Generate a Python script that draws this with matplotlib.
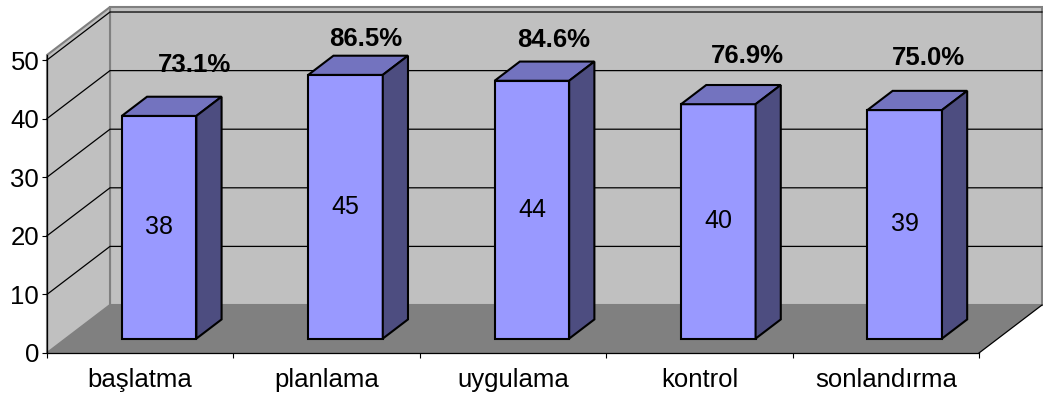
import matplotlib
matplotlib.use("Agg")
import matplotlib.pyplot as plt
from matplotlib.patches import Polygon

# ---- data ----
categories = ["başlatma", "planlama", "uygulama", "kontrol", "sonlandırma"]
counts = [38, 45, 44, 40, 39]
total = 52
y_ticks = [0, 10, 20, 30, 40, 50]

# placement of the bold percentage labels (offset from category centre, height)
pct_dx = [0.29, 0.21, 0.22, 0.26, 0.23]
pct_y = [49.1, 53.6, 53.4, 50.6, 50.3]

plt.rcParams["font.family"] = ["Liberation Sans", "DejaVu Sans"]

W, H, DPI = 1043, 396, 100
fig = plt.figure(figsize=(W / DPI, H / DPI), dpi=DPI)
fig.patch.set_facecolor("white")

n = len(categories)
wall_top = 50.85
px_per_unit = 5.86
ax = fig.add_axes([47 / W, 43 / H, 932 / W, wall_top * px_per_unit / H])
ax.set_xlim(0, n)
ax.set_ylim(0, wall_top)
ax.patch.set_visible(False)

# oblique depth vector (data units) for a full step into the floor
DX, DY = 0.338, 8.19


def P(x, v, d):
    return (x + d * DX, v + d * DY)


def face(pts, fc, ec="none", lw=0.0, z=1):
    ax.add_patch(Polygon(pts, closed=True, facecolor=fc, edgecolor=ec,
                         linewidth=lw, zorder=z, clip_on=False,
                         joinstyle="miter"))


# walls and floor
face([P(0, 0, 1), P(n, 0, 1), P(n, wall_top, 1), P(0, wall_top, 1)],
     "#C0C0C0", "#808080", 1.5, z=1)
face([P(0, 0, 0), P(0, 0, 1), P(0, wall_top, 1), P(0, wall_top, 0)],
     "#C0C0C0", "#808080", 1.5, z=1.1)
face([P(0, 0, 0), P(n, 0, 0), P(n, 0, 1), P(0, 0, 1)], "#808080", z=1.2)
rx = [P(n, 0, 0)[0], P(n, 0, 1)[0]]
ry = [P(n, 0, 0)[1], P(n, 0, 1)[1]]
ax.plot(rx, ry, color="black", lw=0.9, zorder=1.3, clip_on=False)

# gridlines on the side and back walls
for t in y_ticks[1:]:
    pts = [P(0, t, 0), P(0, t, 1), P(n, t, 1)]
    ax.plot([p[0] for p in pts], [p[1] for p in pts], color="black",
            lw=0.9, zorder=1.4, clip_on=False)

# 3D columns
d0, d1 = 0.3, 0.7
bar_w = 0.4
for i, v in enumerate(counts):
    xl = i + 0.5 - bar_w / 2
    xr = i + 0.5 + bar_w / 2
    face([P(xl, 0, d0), P(xr, 0, d0), P(xr, v, d0), P(xl, v, d0)],
         "#9999FF", "black", 1.5, z=3)
    face([P(xl, v, d0), P(xr, v, d0), P(xr, v, d1), P(xl, v, d1)],
         "#7373BF", "black", 1.5, z=3)
    face([P(xr, 0, d0), P(xr, 0, d1), P(xr, v, d1), P(xr, v, d0)],
         "#4D4D80", "black", 1.5, z=3)
    cx, cy = P(i + 0.5, v / 2, d0)
    ax.text(cx, cy, f"{v}", ha="center", va="center", fontsize=18,
            color="black", zorder=4)
    ax.text(i + 0.5 + pct_dx[i], pct_y[i], f"{v / total * 100:.1f}%",
            ha="center", va="center", fontsize=18.5, fontweight="bold",
            color="black", zorder=4, clip_on=False)

# axes: front edges of the floor and side wall
for s in ("top", "right"):
    ax.spines[s].set_visible(False)
for s in ("left", "bottom"):
    ax.spines[s].set_color("black")
    ax.spines[s].set_linewidth(0.9)
    ax.spines[s].set_zorder(2)

ax.set_yticks(y_ticks)
ax.set_yticklabels([str(t) for t in y_ticks])
ax.tick_params(axis="y", direction="out", length=3.6, width=0.8,
               labelsize=18.5, pad=2)

ax.set_xticks(range(n + 1))
ax.set_xticklabels([""] * (n + 1))
ax.set_xticks([i + 0.5 for i in range(n)], minor=True)
ax.set_xticklabels(categories, minor=True)
ax.tick_params(axis="x", which="major", direction="out", length=3.6,
               width=0.8)
ax.tick_params(axis="x", which="minor", length=0, labelsize=18.5, pad=11)

fig.savefig("out.png", dpi=DPI, facecolor="white")
